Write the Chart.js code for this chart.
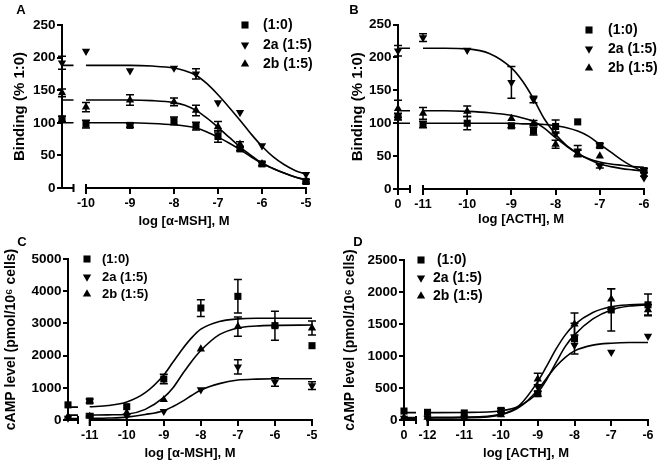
<!DOCTYPE html>
<html><head><meta charset="utf-8">
<script src="https://cdn.jsdelivr.net/npm/chart.js@4.4.1/dist/chart.umd.min.js"></script>
<style>
html,body{margin:0;padding:0;background:#fff;}
#wrap{position:relative;width:662px;height:472px;overflow:hidden;background:#fff;}
canvas{position:absolute;}
</style></head><body>
<div id="wrap">
<canvas id="cA" width="331" height="236" style="left:0;top:0"></canvas>
<canvas id="cB" width="331" height="236" style="left:331px;top:0"></canvas>
<canvas id="cC" width="331" height="236" style="left:0;top:236px"></canvas>
<canvas id="cD" width="331" height="236" style="left:331px;top:236px"></canvas>
</div>
<script>
// ---------- DATA (series order: (1:0), 2a (1:5), 2b (1:5)); null dose = no agonist (plotted at "0") ----------
const seriesNames = ['(1:0)', '2a (1:5)', '2b (1:5)'];
const seriesNamesD = [' (1:0)', '2a (1:5)', '2b (1:5)'];

// Panel A: binding vs log[alpha-MSH]
const aDoses = [null, -10, -9, -8, -7.5, -7, -6.5, -6, -5];
const a10 = [106, 98, 96, 103, 95, 79, 60, 37, 10];
const a10Err = [4, 6, 3, 6, 6, 9, 3, 3, 3];
const a2a = [192, 210, 180, 184, 175, 131, 116, 65, 21];
const a2aErr = [10, 0, 0, 0, 8, 0, 0, 0, 0];
const a2b = [146, 124, 135, 132, 119, 94, 67, 37, 12];
const a2bErr = [6, 7, 8, 6, 8, 8, 4, 0, 0];
const aCurveX = [-10, -9, -8.5, -8, -7.75, -7.5, -7.25, -7, -6.75, -6.5, -6.25, -6, -5.75, -5.5, -5.25, -5];
const a10Fit = [100, 100, 99, 97, 95, 92, 86, 78, 69, 59, 48, 38, 30, 23, 17, 13];
const a2aFit = [188, 188, 187, 184, 180, 173, 160, 143, 124, 104, 83, 64, 48, 36, 27, 21];
const a2bFit = [135, 135, 134, 131, 127, 119, 107, 93, 78, 63, 50, 38, 30, 23, 17, 12];
const aFit0 = [100, 188, 135];
const aXTicks = [-10, -9, -8, -7, -6, -5];
const aXLabels = ['-10', '-9', '-8', '-7', '-6', '-5'];
const aYTicks = [0, 50, 100, 150, 200, 250];
const aYLabels = ['0', '50', '100', '150', '200', '250'];

// Panel B: binding vs log[ACTH]
const bDoses = [null, -11, -10, -9, -8.5, -8, -7.5, -7, -6];
const b10 = [110, 98, 100, 96, 88, 95, 102, 66, 28];
const b10Err = [5, 5, 10, 3, 6, 10, 0, 3, 3];
const b2a = [210, 230, 211, 162, 136, 84, 58, 35, 17];
const b2aErr = [8, 6, 0, 24, 5, 0, 8, 3, 0];
const b2b = [122, 115, 118, 107, 100, 68, 54, 50, 22];
const b2bErr = [13, 9, 8, 0, 4, 6, 5, 0, 0];
const bCurveX = [-11, -10.5, -10, -9.5, -9, -8.75, -8.5, -8.25, -8, -7.75, -7.5, -7.25, -7, -6.75, -6.5, -6.25, -6];
const b10Fit = [100, 100, 100, 100, 100, 99, 99, 98, 96, 93, 88, 80, 68, 56, 44, 34, 26];
const b2aFit = [214, 214, 213, 206, 184, 164, 137, 106, 83, 66, 54, 45, 38, 34, 31, 29, 27];
const b2bFit = [119, 119, 118, 116, 112, 108, 103, 92, 78, 65, 54, 46, 41, 38, 36, 34, 33];
const bFit0 = [100, 214, 119];
const bXTicks = [null, -11, -10, -9, -8, -7, -6];
const bXLabels = ['0', '-11', '-10', '-9', '-8', '-7', '-6'];
const bYTicks = [0, 50, 100, 150, 200, 250];
const bYLabels = ['0', '50', '100', '150', '200', '250'];

// Panel C: cAMP vs log[alpha-MSH]
const cDoses = [null, -11, -10, -9, -8, -7, -6, -5];
const c10 = [470, 590, 414, 1273, 3478, 3840, 2930, 2308];
const c10Err = [0, 60, 0, 150, 260, 520, 450, 0];
const c2a = [60, 150, 130, 270, 942, 1650, 1180, 1065];
const c2aErr = [0, 40, 0, 0, 0, 220, 130, 120];
const c2b = [110, 110, 220, 631, 2200, 2900, 2950, 2857];
const c2bErr = [0, 30, 0, 0, 0, 300, 0, 220];
const cCurveX = [-11, -10.5, -10, -9.5, -9, -8.75, -8.5, -8.25, -8, -7.5, -7, -6.5, -6, -5];
const c10Fit = [410, 450, 560, 850, 1400, 1800, 2200, 2550, 2820, 3060, 3140, 3160, 3160, 3160];
const c2aFit = [45, 60, 90, 170, 290, 420, 580, 760, 930, 1130, 1240, 1270, 1280, 1280];
const c2bFit = [150, 160, 180, 330, 700, 1000, 1420, 1820, 2160, 2650, 2860, 2920, 2940, 2950];
const cFit0 = [400, 45, 150];
const cXTicks = [-11, -10, -9, -8, -7, -6, -5];
const cXLabels = ['-11', '-10', '-9', '-8', '-7', '-6', '-5'];
const cYTicks = [0, 1000, 2000, 3000, 4000, 5000];
const cYLabels = ['0', '1000', '2000', '3000', '4000', '5000'];

// Panel D: cAMP vs log[ACTH]
const dDoses = [null, -12, -11, -10, -9, -8, -7, -6];
const d10 = [140, 120, 110, 150, 410, 1270, 1720, 1800];
const d10Err = [0, 0, 0, 30, 40, 240, 330, 170];
const d2a = [30, 30, 30, 110, 520, 1170, 1060, 1310];
const d2aErr = [0, 0, 0, 0, 0, 0, 0, 0];
const d2b = [40, 40, 40, 80, 640, 1500, 1890, 1720];
const d2bErr = [0, 0, 0, 0, 90, 170, 160, 80];
const dCurveX = [-12, -11, -10, -9.5, -9, -8.75, -8.5, -8.25, -8, -7.5, -7, -6.5, -6];
const d10Fit = [115, 118, 145, 220, 430, 640, 900, 1150, 1330, 1580, 1720, 1780, 1800];
const d2aFit = [30, 35, 80, 200, 470, 660, 840, 980, 1080, 1170, 1200, 1210, 1210];
const d2bFit = [40, 45, 90, 230, 600, 850, 1110, 1330, 1490, 1680, 1770, 1800, 1810];
const dFit0 = [115, 30, 40];
const dXTicks = [null, -12, -11, -10, -9, -8, -7, -6];
const dXLabels = ['0', '-12', '-11', '-10', '-9', '-8', '-7', '-6'];
const dYTicks = [0, 500, 1000, 1500, 2000, 2500];
const dYLabels = ['0', '500', '1000', '1500', '2000', '2500'];

// ---------- RENDERING ----------
const FONT = '"Liberation Sans", Arial, Helvetica, sans-serif';
Chart.defaults.font.family = FONT;
Chart.defaults.color = '#000';
const W = 331, H = 236;
const ptStyles = [
  {s: 'rect', r: 5, rot: 0},
  {s: 'triangle', r: 4.8, rot: 180},
  {s: 'triangle', r: 4.8, rot: 0}
];

function buildPanel(id, p) {
  const b = p.box;
  const span = p.xMax - p.xZero;
  const pxPerUnit = (b.right - b.left) / span;
  const breakVal = p.xZero + b.brk / pxPerUnit;
  const firstMajor = p.xTicks.find(v => v !== null);
  const datasets = [];
  for (let s = 0; s < 3; s++) {
    const curve = [{x: p.xZero, y: p.fit0[s]}, {x: breakVal, y: p.fit0[s]}, {x: (breakVal + firstMajor) / 2, y: null}];
    p.curveX.forEach((x, i) => curve.push({x: x, y: p.fits[s][i]}));
    datasets.push({data: curve, showLine: true, pointRadius: 0, pointHoverRadius: 0,
      borderColor: '#000', borderWidth: 1.6, cubicInterpolationMode: 'monotone',
      spanGaps: false, clip: false, fill: false});
  }
  for (let s = 0; s < 3; s++) {
    datasets.push({
      data: p.doses.map((d, i) => ({x: d === null ? p.xZero : d, y: p.vals[s][i]})),
      errs: p.errs[s], showLine: false,
      pointStyle: ptStyles[s].s, pointRadius: ptStyles[s].r, pointHoverRadius: ptStyles[s].r,
      pointRotation: ptStyles[s].rot,
      backgroundColor: '#000', borderColor: '#000', borderWidth: 0, clip: false
    });
  }
  const xTickFont = {family: FONT, size: 12.5, weight: 'bold'};
  const yTickFont = {family: FONT, size: 13.5, weight: 'bold'};
  const xTitleFont = {family: FONT, size: 13, weight: 'bold'};
  const yTitleFont = {family: FONT, size: b.yTitleSize, weight: 'bold'};
  const decor = {
    id: 'decor' + id,
    afterDatasetsDraw(chart) {
      const ctx = chart.ctx;
      const ys = chart.scales.y;
      ctx.save();
      ctx.strokeStyle = '#000';
      ctx.lineWidth = 1.5;
      chart.data.datasets.forEach((ds, di) => {
        if (!ds.errs) return;
        const meta = chart.getDatasetMeta(di);
        meta.data.forEach((el, j) => {
          const e = ds.errs[j];
          if (!e) return;
          const v = ds.data[j].y;
          const y1 = ys.getPixelForValue(v + e), y2 = ys.getPixelForValue(v - e);
          ctx.beginPath();
          ctx.moveTo(el.x, y1); ctx.lineTo(el.x, y2);
          ctx.moveTo(el.x - 4, y1); ctx.lineTo(el.x + 4, y1);
          ctx.moveTo(el.x - 4, y2); ctx.lineTo(el.x + 4, y2);
          ctx.stroke();
        });
      });
      ctx.restore();
    },
    afterDraw(chart) {
      const ctx = chart.ctx;
      const ca = chart.chartArea;
      const xs = chart.scales.x;
      const y = ca.bottom;
      ctx.save();
      ctx.strokeStyle = '#000';
      ctx.lineWidth = 2;
      const bEnd = ca.left + b.brk;
      const mStart = xs.getPixelForValue(firstMajor);
      ctx.beginPath();
      ctx.moveTo(ca.left - 1, y); ctx.lineTo(bEnd, y);
      ctx.moveTo(mStart, y); ctx.lineTo(ca.right + 1, y);
      ctx.moveTo(bEnd, y - 4); ctx.lineTo(bEnd, y + 4);
      ctx.moveTo(mStart, y - 4); ctx.lineTo(mStart, y + 6);
      ctx.stroke();
      // legend
      const L = p.legend;
      ctx.font = 'bold ' + L.size + 'px ' + FONT;
      ctx.textBaseline = 'middle';
      ctx.textAlign = 'left';
      ctx.fillStyle = '#000';
      p.names.forEach((nm, s) => {
        Chart.helpers.drawPoint(ctx, {pointStyle: ptStyles[s].s, radius: ptStyles[s].r, rotation: ptStyles[s].rot, borderWidth: 0}, L.mx, L.ys[s]);
        ctx.fillStyle = '#000';
        ctx.fillText(nm, L.tx, L.ys[s] + 0.5);
      });
      // panel letter
      ctx.font = 'bold 13px ' + FONT;
      ctx.textAlign = 'center';
      ctx.fillText(p.letter, p.letterPos[0], p.letterPos[1]);
      ctx.restore();
    }
  };
  return new Chart(document.getElementById(id), {
    type: 'scatter',
    data: {datasets: datasets},
    options: {
      responsive: false, animation: false, devicePixelRatio: 1,
      layout: {padding: {left: 0, top: b.top, right: W - b.right, bottom: 0}},
      plugins: {legend: {display: false}, tooltip: {enabled: false}},
      scales: {
        x: {
          type: 'linear', min: p.xZero, max: p.xMax,
          afterBuildTicks: s => { s.ticks = p.xTicks.map(v => ({value: v === null ? p.xZero : v})); },
          afterFit: s => { s.height = H - b.bottom; },
          ticks: {autoSkip: false, maxRotation: 0, minRotation: 0, padding: b.xTickPad, color: '#000', font: xTickFont,
            callback: (v, i) => p.xLabels[i]},
          grid: {display: true, drawOnChartArea: false, drawTicks: true, tickLength: 6, color: '#000', lineWidth: 2, tickWidth: 2, tickColor: '#000'},
          border: {display: false},
          title: {display: true, text: p.xTitle, color: '#000', font: xTitleFont, padding: {top: 0, bottom: b.xTitlePad}}
        },
        y: {
          type: 'linear', min: 0, max: p.yMax,
          afterBuildTicks: s => { s.ticks = p.yTicks.map(v => ({value: v})); },
          afterFit: s => { s.width = b.left; },
          ticks: {padding: 1.5, color: '#000', font: yTickFont, callback: (v, i) => p.yLabels[i]},
          grid: {display: true, drawOnChartArea: false, drawTicks: true, tickLength: 5, color: '#000', lineWidth: 2, tickWidth: 2, tickColor: '#000'},
          border: {display: true, color: '#000', width: 2},
          title: {display: true, text: p.yTitle, color: '#000', font: yTitleFont, padding: {top: b.yTitlePad, bottom: 0}}
        }
      }
    },
    plugins: [decor]
  });
}

buildPanel('cA', {
  doses: aDoses, vals: [a10, a2a, a2b], errs: [a10Err, a2aErr, a2bErr],
  curveX: aCurveX, fits: [a10Fit, a2aFit, a2bFit], fit0: aFit0,
  xZero: -10.545, xMax: -5, xTicks: aXTicks, xLabels: aXLabels,
  yMax: 250, yTicks: aYTicks, yLabels: aYLabels,
  xTitle: 'log [\u03B1-MSH], M', yTitle: 'Binding (% 1:0)', names: seriesNames,
  letter: 'A', letterPos: [21, 10],
  legend: {mx: 245, tx: 263, ys: [25, 45, 64], size: 14},
  box: {left: 62, right: 306, top: 25, bottom: 188, brk: 11.5, xTickPad: 2.5, xTitlePad: 7.2, yTitlePad: 11, yTitleSize: 15}
});
buildPanel('cB', {
  doses: bDoses, vals: [b10, b2a, b2b], errs: [b10Err, b2aErr, b2bErr],
  curveX: bCurveX, fits: [b10Fit, b2aFit, b2bFit], fit0: bFit0,
  xZero: -11.566, xMax: -6, xTicks: bXTicks, xLabels: bXLabels,
  yMax: 250, yTicks: bYTicks, yLabels: bYLabels,
  xTitle: 'log [ACTH], M', yTitle: 'Binding (% 1:0)', names: seriesNames,
  letter: 'B', letterPos: [23, 10],
  legend: {mx: 258, tx: 277, ys: [30, 49, 68], size: 14},
  box: {left: 67, right: 313, top: 24.5, bottom: 189, brk: 12, xTickPad: 2, xTitlePad: 8.5, yTitlePad: 17.7, yTitleSize: 15}
});
buildPanel('cC', {
  doses: cDoses, vals: [c10, c2a, c2b], errs: [c10Err, c2aErr, c2bErr],
  curveX: cCurveX, fits: [c10Fit, c2aFit, c2bFit], fit0: cFit0,
  xZero: -11.585, xMax: -5, xTicks: cXTicks, xLabels: cXLabels,
  yMax: 5000, yTicks: cYTicks, yLabels: cYLabels,
  xTitle: 'log [\u03B1-MSH], M', yTitle: 'cAMP level (pmol/10\u2076 cells)', names: seriesNames,
  letter: 'C', letterPos: [22, 6],
  legend: {mx: 87, tx: 102, ys: [23, 41, 58], size: 13},
  box: {left: 68, right: 312, top: 23, bottom: 184, brk: 10, xTickPad: 2, xTitlePad: 11, yTitlePad: 2.6, yTitleSize: 14}
});
buildPanel('cD', {
  doses: dDoses, vals: [d10, d2a, d2b], errs: [d10Err, d2aErr, d2bErr],
  curveX: dCurveX, fits: [d10Fit, d2aFit, d2bFit], fit0: dFit0,
  xZero: -12.64, xMax: -6, xTicks: dXTicks, xLabels: dXLabels,
  yMax: 2500, yTicks: dYTicks, yLabels: dYLabels,
  xTitle: 'log [ACTH], M', yTitle: 'cAMP level (pmol/10\u2076 cells)', names: seriesNamesD,
  letter: 'D', letterPos: [27, 6],
  legend: {mx: 90, tx: 102, ys: [24, 42, 60], size: 14},
  box: {left: 73, right: 317, top: 24, bottom: 184, brk: 12, xTickPad: 2, xTitlePad: 11, yTitlePad: 10.6, yTitleSize: 14}
});
</script>
</body></html>
